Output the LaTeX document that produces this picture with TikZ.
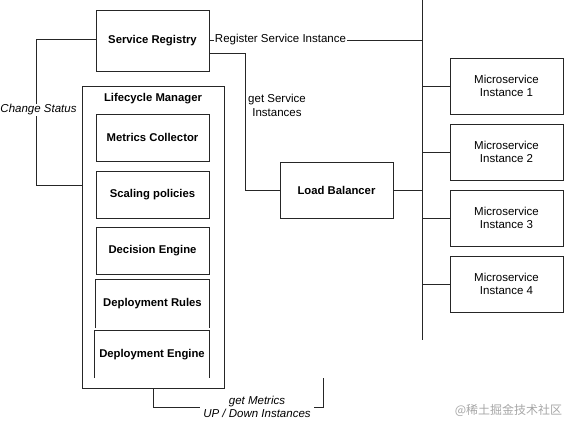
\documentclass[tikz,border=0pt]{standalone}
\usepackage{fontspec}
\setmainfont{Liberation Sans}
\newfontfamily\cjk{Noto Sans CJK SC}
\begin{document}
\begin{tikzpicture}[x=1pt,y=-1pt,
  every node/.style={inner sep=0pt, font=\fontsize{11.5}{13.5}\selectfont},
  line/.style={draw=black!85, line width=0.8pt},
  bbox/.style={line, minimum width=113pt, minimum height=47pt, font=\fontsize{11.3}{13.5}\selectfont\bfseries},
  mbox/.style={line, minimum width=113pt, minimum height=56pt, align=center},
  openbox/.style={minimum width=113pt, minimum height=47pt, font=\fontsize{11.3}{13.5}\selectfont\bfseries},
  lbl/.style={fill=white, inner sep=1pt, align=center},
]
\useasboundingbox (0,0) rectangle (566,421);
% left side
\node[bbox, minimum height=61pt] (sr) at (152.5,40.5) {Service Registry};
\node[line, minimum width=142pt, minimum height=302pt] (lm) at (153,237) {};
\node[font=\fontsize{11.3}{13.5}\selectfont\bfseries] (lmt) at (153,99) {Lifecycle Manager};
\node[bbox] (mc) at (152.5,137.5) {Metrics Collector};
\node[bbox] (sp) at (152.5,194.5) {Scaling policies};
\node[bbox] (de) at (152.5,250.5) {Decision Engine};
\node[openbox, minimum height=48pt] (dr) at (152.5,304) {Deployment Rules};
\draw[line] (dr.south west) -- (dr.north west) -- (dr.north east) -- (dr.south east);
\node[openbox, minimum width=114pt] (den) at (152,354.5) {Deployment Engine};
\draw[line] (den.south west) -- (den.north west) -- (den.north east) -- (den.south east);
% load balancer and instances
\node[bbox, minimum height=56pt] (lb) at (336.5,190) {Load Balancer};
\node[mbox] (mi1) at (506.5,86) {Microservice\\Instance 1};
\node[mbox] (mi2) at (506.5,152) {Microservice\\Instance 2};
\node[mbox] (mi3) at (506.5,218) {Microservice\\Instance 3};
\node[mbox] (mi4) at (506.5,284) {Microservice\\Instance 4};
% bus
\coordinate (bustop) at (422,0);
\coordinate (busbot) at (422,340);
\draw[line] (bustop) -- (busbot);
\draw[line] (lb.east) -- (lb.east -| bustop);
\foreach \m in {mi1,mi2,mi3,mi4} \draw[line] (\m.west) -- (\m.west -| bustop);
% register
\coordinate (regc) at (0,40);
\draw[line] (sr.east |- regc) -- (regc -| bustop);
\node[lbl] (reg) at (280.5,40) {Register Service Instance};
% get service instances
\coordinate (gsc) at (245,53);
\draw[line] (sr.east |- gsc) -- (gsc) |- (lb.west);
\node[align=center] (gsl) at (277,105.5) {get Service\\Instances};
% change status
\coordinate (csc) at (36,39);
\coordinate (csb) at (36,185);
\draw[line] (sr.west |- csc) -- (csc) -- (csb) -- (lm.west |- csb);
\node[lbl, font=\fontsize{11.5}{13.5}\selectfont\itshape] (csl) at (38.5,110) {Change Status};
% get metrics
\coordinate (gm1) at (153,407);
\coordinate (gm2) at (323,407);
\coordinate (gm3) at (323,378);
\draw[line] (lm.south -| gm1) -- (gm1) -- (gm2) -- (gm3);
\node[lbl, font=\fontsize{11.5}{13}\selectfont\itshape, inner xsep=3pt] (gml) at (257,406.5) {get Metrics\\UP / Down Instances};
% watermark
\node[text=black!35, font=\cjk\fontsize{12}{14}\selectfont] (wm) at (508.5,410) {@稀土掘金技术社区};
\end{tikzpicture}
\end{document}
